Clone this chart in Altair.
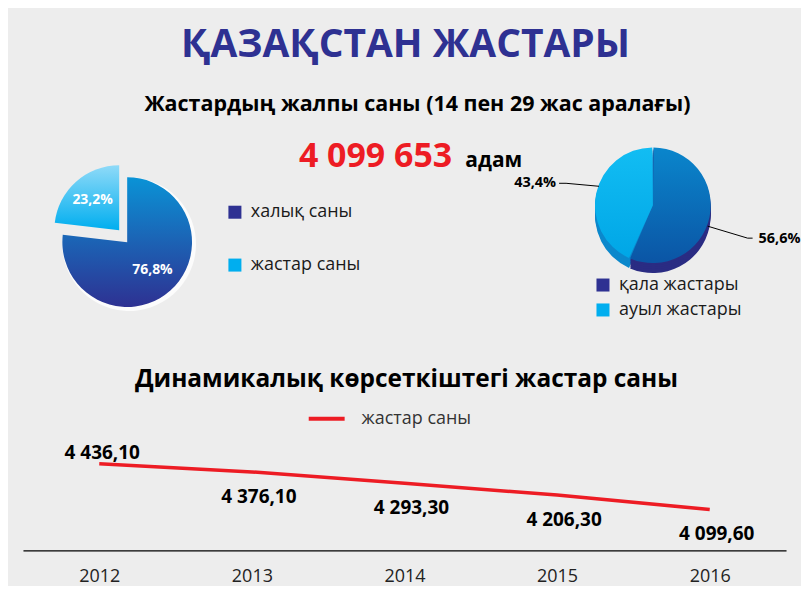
import math
import altair as alt
import pandas as pd

# ---------------- data ----------------
title_text = "ҚАЗАҚСТАН ЖАСТАРЫ"
subtitle_text = "Жастардың жалпы саны (14 пен 29 жас аралағы)"
total_youth = "4 099 653"
total_unit = "адам"
section_title = "Динамикалық көрсеткіштегі жастар саны"

pie1_labels = ["халық саны", "жастар саны"]
pie1_values = [76.8, 23.2]

pie2_labels = ["қала жастары", "ауыл жастары"]
pie2_values = [56.6, 43.4]

line_series = "жастар саны"
years = ["2012", "2013", "2014", "2015", "2016"]
youth_counts = [4436.10, 4376.10, 4293.30, 4206.30, 4099.60]

# ---------------- helpers ----------------
FONT = "Open Sans"
RED = "#ED1C24"
DARK = "#2E3192"
LIGHT = "#00AEEF"


def pct(v):
    return f"{v:.1f}".replace(".", ",") + "%"


def num(v):
    return f"{v:,.2f}".replace(",", " ").replace(".", ",")


def pie_frame(labels, values):
    rows, acc = [], 0.0
    for i, (l, v) in enumerate(zip(labels, values)):
        rows.append({"idx": i, "label": l, "value": v, "start": acc,
                     "end": acc + v, "mid": acc + v / 2, "pct": pct(v)})
        acc += v
    return pd.DataFrame(rows)


theta_scale = alt.Scale(domain=[0, 100], range=[0, 2 * math.pi])


def grad(c1, c2):
    return alt.LinearGradient(
        gradient="linear", x1=0, y1=0, x2=0, y2=1,
        stops=[alt.GradientStop(color=c1, offset=0),
               alt.GradientStop(color=c2, offset=1)])


def txt(s, x, y, size, color, weight="bold", align="center", baseline="middle"):
    return alt.Chart(pd.DataFrame({"t": [s]})).mark_text(
        font=FONT, fontSize=size, fontWeight=weight, color=color,
        align=align, baseline=baseline
    ).encode(text="t:N", x=alt.value(x), y=alt.value(y))


def slice_layer(df, i, cx, cy, r, fill, **kw):
    return alt.Chart(df).transform_filter(alt.datum.idx == i).mark_arc(
        radius=r, fill=fill, **kw
    ).encode(
        theta=alt.Theta("start:Q", scale=theta_scale, stack=None),
        theta2="end:Q",
        x=alt.value(cx), y=alt.value(cy),
    )


def slice_label(df, i, cx, cy, r, color, size):
    return alt.Chart(df).transform_filter(alt.datum.idx == i).mark_text(
        radius=r, font=FONT, fontSize=size, fontWeight="bold", color=color,
        align="center", baseline="middle"
    ).encode(
        theta=alt.Theta("mid:Q", scale=theta_scale, stack=None),
        text="pct:N",
        x=alt.value(cx), y=alt.value(cy),
    )


# ---------------- top panel ----------------
df1 = pie_frame(pie1_labels, pie1_values)
df2 = pie_frame(pie2_labels, pie2_values)

layers = [
    txt(title_text, 398, 36, 39, DARK),
    txt(subtitle_text, 410, 97, 21.5, "#000000"),
    txt(total_youth, 368, 149, 34, RED),
    txt(total_unit, 458, 159, 21, "#000000", align="left", baseline="alphabetic"),
    txt(section_title, 399, 372, 24.5, "#000000"),
]

# left pie (exploded)
layers += [
    slice_layer(df1, 0, 121, 236, 67, "#FFFFFF", opacity=0.8),
    slice_layer(df1, 0, 119, 234, 65, grad("#0A93D6", "#2E3192")),
    slice_layer(df1, 1, 111, 222, 65, grad("#8FDAF8", "#00AEEF")),
    slice_label(df1, 0, 119, 234, 38, "#FFFFFF", 14),
    slice_label(df1, 1, 111, 222, 40, "#FFFFFF", 14),
]

# left legend
for i, (lab, col) in enumerate(zip(pie1_labels, [DARK, LIGHT])):
    y = 204 + 53 * i
    layers.append(alt.Chart(pd.DataFrame({"t": [lab]})).mark_square(
        size=170, color=col, opacity=1).encode(x=alt.value(227), y=alt.value(y)))
    layers.append(txt(lab, 243, y, 18, "#1a1a1a", weight="normal", align="left"))

# right pie (pseudo 3D)
cx2, cy2, r2 = 646, 197, 58
for off in [10, 8, 6, 4, 2]:
    layers.append(slice_layer(df2, 0, cx2, cy2 + off, r2, "#2A2C83", padAngle=0.02))
    layers.append(slice_layer(df2, 1, cx2, cy2 + off, r2, "#0B88CC", padAngle=0.02))
layers += [
    slice_layer(df2, 0, cx2, cy2, r2, grad("#0A86CC", "#0B55A5"), padAngle=0.02),
    slice_layer(df2, 1, cx2, cy2, r2, grad("#12BDF3", "#00A6E6"), padAngle=0.02),
]
# leader lines + labels
rule = lambda x1, y1, x2, y2: alt.Chart(pd.DataFrame({"t": [0]})).mark_rule(
    color="#000", strokeWidth=1).encode(x=alt.value(x1), y=alt.value(y1),
                                        x2=alt.value(x2), y2=alt.value(y2))
layers += [
    rule(701, 218, 741, 230), rule(741, 230, 746, 230),
    rule(552, 175, 559, 175), rule(559, 175, 592, 178),
    txt(pct(pie2_values[0]), 773, 231, 14.5, "#000000"),
    txt(pct(pie2_values[1]), 528, 175, 14.5, "#000000"),
]

# right legend
for i, (lab, col) in enumerate(zip(pie2_labels, [DARK, LIGHT])):
    y = 277 + 25 * i
    layers.append(alt.Chart(pd.DataFrame({"t": [lab]})).mark_square(
        size=170, color=col, opacity=1).encode(x=alt.value(596), y=alt.value(y)))
    layers.append(txt(lab, 612, y, 18, "#1a1a1a", weight="normal", align="left"))

# line legend
layers += [
    alt.Chart(pd.DataFrame({"t": [0]})).mark_rule(color=RED, strokeWidth=4).encode(
        x=alt.value(301), x2=alt.value(337), y=alt.value(411)),
    txt(line_series, 354, 411, 18, "#333333", weight="normal", align="left"),
]

top = alt.layer(*layers).properties(width=793, height=427)

# ---------------- bottom line chart ----------------
line_df = pd.DataFrame({
    "idx": list(range(len(years))),
    "year": years,
    "value": youth_counts,
    "label": [num(v) for v in youth_counts],
})

base = alt.Chart(line_df).encode(
    x=alt.X("year:O", scale=alt.Scale(type="point", padding=0.5),
            axis=alt.Axis(title=None, ticks=False, grid=False, domainColor="#000000",
                          domainWidth=1.3, labelFont=FONT, labelFontSize=18,
                          labelColor="#222222", labelPadding=17, labelAngle=0)),
    y=alt.Y("value:Q", scale=alt.Scale(domain=[3800, 4650]), axis=None),
)
line = base.mark_line(color=RED, strokeWidth=3.5)
lab_first = base.transform_filter(alt.datum.idx == 0).mark_text(
    dy=-11, dx=3, font=FONT, fontSize=19, fontWeight="bold", color="#000")
lab_rest = base.transform_filter(alt.datum.idx > 0).mark_text(
    dy=25, dx=7, font=FONT, fontSize=19, fontWeight="bold", color="#000")
bottom = alt.layer(line, lab_first.encode(text="label:N"),
                   lab_rest.encode(text="label:N")).properties(width=765, height=116)

chart = alt.vconcat(top, bottom, spacing=0, center=True).properties(
    padding=0, background="#EDEDED"
).configure_view(strokeWidth=0)

chart.save("out.html", embed_options={"renderer": "svg", "actions": False})
